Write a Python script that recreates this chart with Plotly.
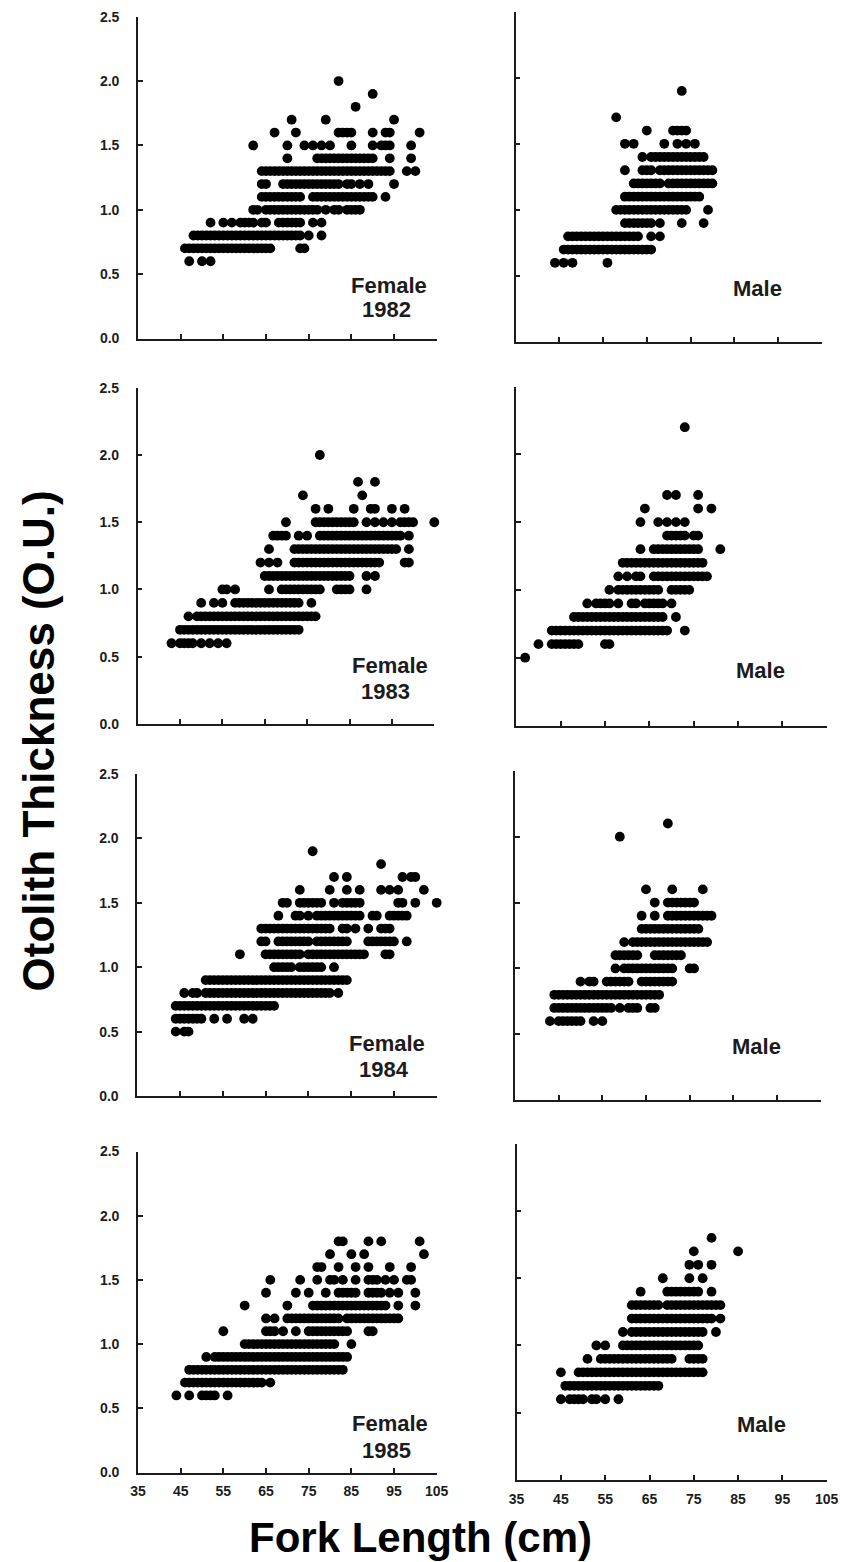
import plotly.graph_objects as go

# ---------------- data: (otolith thickness, [fork lengths]) ----------------
F1982 = [
    (0.6, [47, 50, 52]),
    (0.7, [46, 47, 48, 49, 50, 51, 52, 53, 54, 55, 56, 57, 58, 59, 60, 61, 62, 63, 64, 65, 66, 73, 74]),
    (0.8, [48, 49, 50, 51, 52, 53, 54, 55, 56, 57, 58, 59, 60, 61, 62, 63, 64, 65, 66, 67, 68, 69, 70, 71, 72, 73, 75, 78]),
    (0.9, [52, 55, 57, 59, 60, 61, 62, 64, 65, 68, 69, 70, 71, 72, 73, 76, 78]),
    (1.0, [62, 63, 65, 66, 67, 68, 69, 70, 71, 72, 73, 74, 75, 76, 77, 79, 81, 82, 84, 85, 86, 87]),
    (1.1, [64, 65, 66, 67, 68, 69, 70, 71, 72, 73, 76, 77, 78, 79, 80, 81, 82, 83, 84, 85, 86, 87, 88, 89, 90, 93]),
    (1.2, [64, 65, 69, 70, 71, 72, 73, 74, 75, 76, 77, 78, 79, 80, 81, 82, 84, 85, 87, 89, 95]),
    (1.3, [64, 65, 66, 67, 68, 69, 70, 71, 72, 73, 74, 75, 76, 77, 78, 79, 80, 81, 82, 83, 84, 85, 86, 87, 88, 89, 90, 91, 92, 93, 94, 98, 100]),
    (1.4, [70, 77, 78, 79, 80, 81, 82, 83, 84, 85, 86, 87, 88, 89, 90, 94, 99]),
    (1.5, [62, 70, 74, 76, 78, 80, 85, 90, 92, 93, 94, 99]),
    (1.6, [67, 72, 82, 83, 84, 85, 90, 93, 94, 101]),
    (1.7, [71, 79, 95]),
    (1.8, [86]),
    (1.9, [90]),
    (2.0, [82]),
]

M1982 = [
    (0.6, [44, 46, 48, 56]),
    (0.7, [46, 47, 48, 49, 50, 51, 52, 53, 54, 55, 56, 57, 58, 59, 60, 61, 62, 63, 64, 65, 66]),
    (0.8, [47, 48, 49, 50, 51, 52, 53, 54, 55, 56, 57, 58, 59, 60, 61, 62, 63, 66, 68]),
    (0.9, [60, 61, 62, 63, 64, 65, 66, 68, 73, 78]),
    (1.0, [58, 59, 60, 61, 62, 63, 64, 65, 66, 67, 68, 69, 70, 71, 72, 73, 74, 79]),
    (1.1, [60, 61, 62, 63, 64, 65, 66, 67, 68, 69, 70, 71, 72, 73, 74, 75, 76, 77]),
    (1.2, [62, 63, 64, 65, 66, 67, 68, 70, 71, 72, 73, 74, 75, 76, 77, 78, 79, 80]),
    (1.3, [60, 64, 65, 66, 68, 69, 70, 71, 72, 73, 74, 75, 76, 77, 78, 79, 80]),
    (1.4, [64, 66, 67, 68, 69, 70, 71, 72, 73, 74, 75, 76, 77, 78]),
    (1.5, [60, 62, 69, 72, 74, 76]),
    (1.6, [65, 71, 72, 73, 74]),
    (1.7, [58]),
    (1.9, [73]),
]

F1983 = [
    (0.6, [43, 45, 46, 47, 48, 50, 52, 54, 56]),
    (0.7, [45, 46, 47, 48, 49, 50, 51, 52, 53, 54, 55, 56, 57, 58, 59, 60, 61, 62, 63, 64, 65, 66, 67, 68, 69, 70, 71, 72, 73]),
    (0.8, [47, 49, 50, 51, 52, 53, 54, 55, 56, 57, 58, 59, 60, 61, 62, 63, 64, 65, 66, 67, 68, 69, 70, 71, 72, 73, 74, 75, 76, 77]),
    (0.9, [50, 53, 55, 58, 59, 60, 61, 62, 63, 64, 65, 66, 67, 68, 69, 70, 71, 72, 73, 76]),
    (1.0, [55, 56, 58, 66, 69, 70, 71, 72, 73, 74, 75, 76, 77, 78, 82, 83, 84, 85, 89]),
    (1.1, [65, 66, 67, 68, 69, 70, 71, 72, 73, 74, 75, 76, 77, 78, 79, 80, 81, 82, 83, 84, 85, 89, 91]),
    (1.2, [64, 66, 68, 72, 73, 74, 75, 76, 77, 78, 79, 80, 81, 82, 83, 84, 85, 86, 87, 88, 89, 90, 91, 92, 98, 99]),
    (1.3, [66, 72, 73, 74, 75, 76, 77, 78, 79, 80, 81, 82, 83, 84, 85, 86, 87, 88, 89, 90, 91, 92, 93, 94, 95, 96, 99]),
    (1.4, [67, 68, 69, 70, 73, 75, 78, 79, 80, 81, 82, 83, 84, 85, 86, 87, 88, 89, 90, 91, 92, 93, 94, 95, 96, 97, 99]),
    (1.5, [70, 77, 78, 79, 80, 81, 82, 83, 84, 85, 86, 89, 91, 93, 95, 97, 98, 99, 100, 105]),
    (1.6, [77, 80, 86, 90, 91, 95, 98]),
    (1.7, [74, 88]),
    (1.8, [87, 91]),
    (2.0, [78]),
]

M1983 = [
    (0.5, [37]),
    (0.6, [40, 43, 44, 45, 46, 47, 48, 49, 55, 56]),
    (0.7, [43, 44, 45, 46, 47, 48, 49, 50, 51, 52, 53, 54, 55, 56, 57, 58, 59, 60, 61, 62, 63, 64, 65, 66, 67, 68, 69, 73]),
    (0.8, [48, 49, 50, 51, 52, 53, 54, 55, 56, 57, 58, 59, 60, 61, 62, 63, 64, 65, 66, 67, 68, 71]),
    (0.9, [51, 53, 54, 55, 56, 58, 61, 62, 64, 65, 66, 67, 68, 70]),
    (1.0, [56, 58, 59, 60, 61, 62, 63, 64, 65, 66, 67, 70, 71, 72, 73, 74]),
    (1.1, [58, 60, 62, 63, 66, 67, 68, 69, 70, 71, 72, 73, 74, 75, 76, 77, 78]),
    (1.2, [59, 60, 61, 62, 63, 64, 65, 66, 67, 68, 69, 70, 71, 72, 73, 74, 75, 76, 77]),
    (1.3, [63, 66, 67, 68, 69, 70, 71, 72, 73, 74, 75, 76, 81]),
    (1.4, [69, 70, 71, 72, 73, 75, 76]),
    (1.5, [63, 67, 69, 71, 73]),
    (1.6, [64, 76, 79]),
    (1.7, [69, 71, 76]),
    (2.2, [73]),
]

F1984 = [
    (0.5, [44, 46, 47]),
    (0.6, [44, 45, 46, 47, 48, 49, 50, 53, 56, 60, 62]),
    (0.7, [44, 45, 46, 47, 48, 49, 50, 51, 52, 53, 54, 55, 56, 57, 58, 59, 60, 61, 62, 63, 64, 65, 66, 67]),
    (0.8, [46, 48, 49, 51, 52, 53, 54, 55, 56, 57, 58, 59, 60, 61, 62, 63, 64, 65, 66, 67, 68, 69, 70, 71, 72, 73, 74, 75, 76, 77, 78, 79, 80, 82]),
    (0.9, [51, 52, 53, 54, 55, 56, 57, 58, 59, 60, 61, 62, 63, 64, 65, 66, 67, 68, 69, 70, 71, 72, 73, 74, 75, 76, 77, 78, 79, 80, 81, 82, 83, 84]),
    (1.0, [67, 68, 69, 70, 71, 73, 74, 75, 76, 77, 78, 81]),
    (1.1, [59, 65, 66, 67, 68, 69, 70, 71, 72, 73, 75, 76, 77, 78, 79, 80, 81, 82, 83, 84, 85, 86, 87, 88, 93, 94]),
    (1.2, [64, 65, 68, 69, 70, 71, 72, 73, 74, 75, 77, 78, 79, 80, 81, 82, 83, 84, 89, 90, 91, 92, 93, 94, 95, 98]),
    (1.3, [64, 65, 66, 67, 68, 69, 70, 71, 72, 73, 74, 75, 76, 77, 78, 79, 80, 83, 84, 86, 89, 92, 93, 94]),
    (1.4, [68, 72, 73, 75, 77, 78, 79, 80, 81, 82, 83, 84, 85, 86, 87, 90, 91, 94, 95, 96, 97, 98]),
    (1.5, [69, 70, 73, 74, 75, 76, 77, 78, 81, 83, 84, 85, 86, 87, 96, 97, 100, 105]),
    (1.6, [73, 80, 84, 87, 92, 94, 96, 102]),
    (1.7, [81, 84, 97, 99, 100]),
    (1.8, [92]),
    (1.9, [76]),
]

M1984 = [
    (0.6, [43, 45, 46, 47, 48, 49, 50, 53, 55]),
    (0.7, [44, 45, 46, 47, 48, 49, 50, 51, 52, 53, 54, 55, 56, 57, 59, 61, 62, 63, 66, 67]),
    (0.8, [44, 45, 46, 47, 48, 49, 50, 51, 52, 53, 54, 55, 56, 57, 58, 59, 60, 61, 62, 63, 64, 65, 66, 67, 68]),
    (0.9, [50, 52, 53, 56, 57, 58, 59, 60, 61, 64, 65, 66, 67, 68, 69, 70, 71]),
    (1.0, [58, 60, 61, 62, 63, 64, 65, 66, 67, 68, 69, 70, 71, 75, 76]),
    (1.1, [58, 59, 60, 61, 62, 63, 67, 68, 69, 70, 71, 72, 73]),
    (1.2, [60, 62, 63, 64, 65, 66, 67, 68, 69, 70, 71, 72, 73, 74, 75, 76, 77, 78, 79]),
    (1.3, [64, 65, 66, 67, 68, 69, 70, 71, 72, 73, 74, 75, 76, 77]),
    (1.4, [64, 67, 70, 71, 72, 73, 74, 75, 76, 77, 78, 79, 80]),
    (1.5, [67, 70, 71, 72, 73, 74, 75, 76]),
    (1.6, [65, 71, 78]),
    (2.0, [59]),
    (2.1, [70]),
]

F1985 = [
    (0.6, [44, 47, 50, 51, 52, 53, 56]),
    (0.7, [46, 47, 48, 49, 50, 51, 52, 53, 54, 55, 56, 57, 58, 59, 60, 61, 62, 63, 64, 66]),
    (0.8, [47, 48, 49, 50, 51, 52, 53, 54, 55, 56, 57, 58, 59, 60, 61, 62, 63, 64, 65, 66, 67, 68, 69, 70, 71, 72, 73, 74, 75, 76, 77, 78, 79, 80, 81, 82, 83]),
    (0.9, [51, 53, 54, 55, 56, 57, 58, 59, 60, 61, 62, 63, 64, 65, 66, 67, 68, 69, 70, 71, 72, 73, 74, 75, 76, 77, 78, 79, 80, 81, 82, 83, 84]),
    (1.0, [60, 61, 62, 63, 64, 65, 66, 67, 68, 69, 70, 71, 72, 73, 74, 75, 76, 77, 78, 79, 80, 81, 85]),
    (1.1, [55, 65, 66, 67, 69, 72, 75, 76, 77, 78, 79, 80, 81, 82, 83, 84, 89, 90]),
    (1.2, [65, 67, 70, 71, 72, 73, 74, 75, 76, 77, 78, 79, 80, 81, 82, 84, 85, 86, 87, 88, 89, 90, 91, 92, 93, 94, 95, 96]),
    (1.3, [60, 70, 76, 77, 78, 79, 80, 81, 82, 83, 84, 85, 86, 87, 88, 89, 90, 91, 92, 93, 96, 100]),
    (1.4, [65, 72, 75, 79, 82, 83, 84, 85, 86, 89, 90, 91, 92, 94, 96, 100]),
    (1.5, [66, 73, 77, 80, 81, 83, 86, 89, 90, 91, 93, 95, 98, 99]),
    (1.6, [77, 78, 82, 86, 89, 94, 99]),
    (1.7, [80, 85, 88, 102]),
    (1.8, [82, 83, 89, 92, 101]),
]

M1985 = [
    (0.6, [45, 47, 48, 49, 50, 52, 53, 55, 58]),
    (0.7, [46, 47, 48, 49, 50, 51, 52, 53, 54, 55, 56, 57, 58, 59, 60, 61, 62, 63, 64, 65, 66, 67]),
    (0.8, [45, 49, 50, 51, 52, 53, 54, 55, 56, 57, 58, 59, 60, 61, 62, 63, 64, 65, 66, 67, 68, 69, 70, 71, 72, 73, 74, 75, 76, 77]),
    (0.9, [51, 54, 55, 56, 57, 58, 59, 60, 61, 62, 63, 64, 65, 66, 67, 68, 69, 70, 74, 75, 76, 77]),
    (1.0, [53, 55, 59, 60, 61, 62, 63, 64, 65, 66, 67, 68, 69, 70, 71, 72, 73, 74, 75, 76]),
    (1.1, [59, 61, 62, 63, 64, 65, 66, 67, 68, 69, 70, 71, 72, 73, 74, 75, 76, 77, 80]),
    (1.2, [61, 62, 63, 64, 65, 66, 67, 68, 69, 70, 71, 72, 73, 74, 75, 76, 77, 78, 79, 81]),
    (1.3, [61, 62, 63, 64, 65, 66, 67, 69, 70, 71, 72, 73, 74, 75, 76, 77, 78, 79, 80, 81]),
    (1.4, [63, 69, 70, 71, 72, 73, 74, 75, 76, 79]),
    (1.5, [68, 74, 77]),
    (1.6, [74, 76, 79]),
    (1.7, [75, 85]),
    (1.8, [79]),
]

X_TICKS = [35, 45, 55, 65, 75, 85, 95, 105]
X_TICKTEXT = ["35", "45", "55", "65", "75", "85", "95", "105"]
Y_TICKS = [0.0, 0.5, 1.0, 1.5, 2.0, 2.5]
Y_TICKTEXT = ["0.0", "0.5", "1.0", "1.5", "2.0", "2.5"]
SEX_LABELS = ["Female", "Male"]
YEARS = ["1982", "1983", "1984", "1985"]
X_TITLE = "Fork Length (cm)"
Y_TITLE = "Otolith Thickness (O.U.)"

# ---------------- layout (pixel geometry of each panel) ----------------
W, H = 844, 1562
FONT = "Liberation Sans, Arial, sans-serif"
INK = "#1c1c1c"

# (data, x_left_px, x_right_px, y_bottom_px, y_top_px, row, col)
panels = [
    (F1982, 138.0, 436.7, 338.5, 16.7, 0, 0),
    (M1982, 515.6, 821.7, 342.1, 11.6, 0, 1),
    (F1983, 137.6, 434.3, 723.9, 387.8, 1, 0),
    (M1983, 516.3, 826.7, 725.5, 386.5, 1, 1),
    (F1984, 137.2, 436.7, 1096.1, 773.9, 2, 0),
    (M1984, 515.0, 820.7, 1100.2, 770.8, 2, 1),
    (F1985, 138.0, 436.7, 1472.5, 1151.5, 3, 0),
    (M1985, 516.6, 826.7, 1479.9, 1143.8, 3, 1),
]

# label centres in pixels
label_pos = {
    (0, 0): [(389, 285), (386, 309)],
    (0, 1): [(757.5, 288)],
    (1, 0): [(389.7, 665), (385.5, 691.7)],
    (1, 1): [(760.3, 670)],
    (2, 0): [(387, 1043), (384, 1069)],
    (2, 1): [(756, 1046.7)],
    (3, 0): [(389.5, 1423), (386, 1450)],
    (3, 1): [(761, 1424.5)],
}

fig = go.Figure()
axes = {}
annotations = []

for i, (data, x0, x1, yb, yt, row, col) in enumerate(panels, start=1):
    sfx = "" if i == 1 else str(i)
    xs = [fl for (ot, fls) in data for fl in fls]
    ys = [ot for (ot, fls) in data for fl in fls]
    fig.add_trace(go.Scatter(
        x=xs, y=ys, mode="markers", xaxis="x" + sfx, yaxis="y" + sfx,
        marker=dict(size=9.8, color="#000000", line=dict(width=0)),
        cliponaxis=False, showlegend=False, hoverinfo="x+y",
    ))
    common = dict(
        showline=True, linewidth=1.6, linecolor=INK, mirror=False,
        ticks="inside", ticklen=5, tickwidth=1.5, tickcolor=INK,
        showgrid=False, zeroline=False, fixedrange=True, automargin=False,
        tickfont=dict(family=FONT, size=14, color=INK, weight="bold"),
    )
    axes["xaxis" + sfx] = dict(
        common, domain=[x0 / W, x1 / W], range=[35, 105], anchor="y" + sfx,
        tickmode="array", tickvals=X_TICKS, ticktext=X_TICKTEXT,
        showticklabels=(row == 3), ticklabelstandoff=5,
    )
    axes["yaxis" + sfx] = dict(
        common, domain=[1 - yb / H, 1 - yt / H], range=[0, 2.5], anchor="x" + sfx,
        tickmode="array", tickvals=Y_TICKS, ticktext=Y_TICKTEXT,
        showticklabels=(col == 0), ticklabelstandoff=14,
    )
    texts = [SEX_LABELS[col]] + ([YEARS[row]] if col == 0 else [])
    for t, (px, py) in zip(texts, label_pos[(row, col)]):
        annotations.append(dict(
            text=t, x=px / W, y=1 - py / H, xref="paper", yref="paper",
            xanchor="center", yanchor="middle", showarrow=False,
            font=dict(family=FONT, size=22, color=INK, weight="bold"),
        ))

annotations.append(dict(
    text=Y_TITLE, x=37.5 / W, y=1 - 741 / H, xref="paper", yref="paper",
    xanchor="center", yanchor="middle", textangle=-90, showarrow=False,
    font=dict(family=FONT, size=44, color="#000000", weight="bold"),
))
annotations.append(dict(
    text=X_TITLE, x=420 / W, y=1 - 1537 / H, xref="paper", yref="paper",
    xanchor="center", yanchor="middle", showarrow=False,
    font=dict(family=FONT, size=42, color="#000000", weight="bold"),
))

fig.update_layout(
    width=W, height=H, margin=dict(l=0, r=0, t=0, b=0, autoexpand=False),
    paper_bgcolor="white", plot_bgcolor="white",
    annotations=annotations, showlegend=False, **axes,
)

fig.write_html(
    "out.html",
    config={"displayModeBar": False, "staticPlot": False},
    post_script="document.body.style.margin='0px';document.body.style.overflow='hidden';",
)
